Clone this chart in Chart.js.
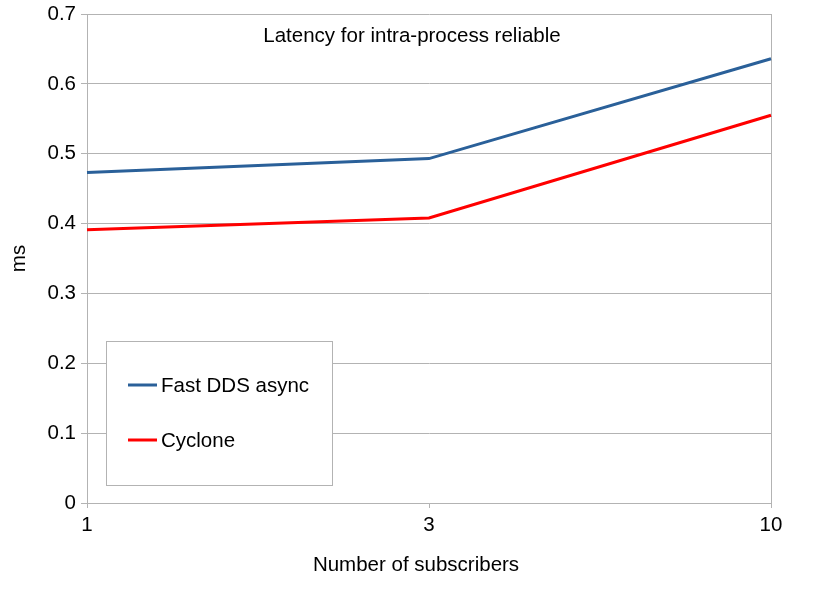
<!DOCTYPE html>
<html>
<head>
<meta charset="utf-8">
<script src="https://cdn.jsdelivr.net/npm/chart.js@4/dist/chart.umd.min.js"></script>
<style>
  html, body { margin: 0; padding: 0; background: #fff; }
  #wrap { width: 825px; height: 606px; }
</style>
</head>
<body>
<div id="wrap"><canvas id="latencyChart"></canvas></div>
<script>
// ===== DATA =====
const subscribers = ['1', '3', '10'];
const fastDdsAsync = [0.473, 0.493, 0.636];
const cyclone = [0.391, 0.408, 0.555];
const chartTitle = 'Latency for intra-process reliable';
const xTitle = 'Number of subscribers';
const yTitle = 'ms';

const GRID = '#b3b3b3';
const FONT = '"Liberation Sans", Arial, sans-serif';
const FSIZE = 20.5;

// ===== TITLE, X TITLE + LEGEND =====
const insidePlugin = {
    id: 'inside',
    afterDraw(chart) {
        const ctx = chart.ctx;
        const area = chart.chartArea;
        ctx.save();
        ctx.fillStyle = '#000';
        ctx.font = FSIZE + 'px ' + FONT;
        ctx.textAlign = 'center';
        ctx.textBaseline = 'middle';
        ctx.fillText(chartTitle, area.left + 325, area.top + 22);
        ctx.fillText(xTitle, area.left + 329, area.bottom + 62);

        // legend box
        const bx = area.left + 19.5, by = area.top + 327.5;
        ctx.strokeStyle = GRID;
        ctx.lineWidth = 1;
        ctx.fillStyle = '#fff';
        ctx.fillRect(bx, by, 226, 144);
        ctx.strokeRect(bx, by, 226, 144);

        ctx.textAlign = 'left';
        chart.data.datasets.forEach((ds, i) => {
            const y = area.top + 371 + i * 55;
            ctx.strokeStyle = ds.borderColor;
            ctx.lineWidth = 3;
            ctx.beginPath();
            ctx.moveTo(area.left + 41, y);
            ctx.lineTo(area.left + 70, y);
            ctx.stroke();
            ctx.fillStyle = '#000';
            ctx.fillText(ds.label, area.left + 74, y + 1);
        });
        ctx.restore();
    }
};

// ===== CHART =====
function initChart() {
    const ctx = document.getElementById('latencyChart');
    new Chart(ctx.getContext('2d'), {
        type: 'line',
        data: {
            labels: subscribers,
            datasets: [{
                label: 'Fast DDS async',
                data: fastDdsAsync,
                borderColor: '#2a6099',
                borderWidth: 3,
                pointRadius: 0,
                tension: 0
            }, {
                label: 'Cyclone',
                data: cyclone,
                borderColor: '#ff0000',
                borderWidth: 3,
                pointRadius: 0,
                tension: 0
            }]
        },
        options: {
            responsive: true,
            maintainAspectRatio: false,
            animation: false,
            layout: { padding: { top: 14, right: 54, left: 0, bottom: 0 } },
            plugins: {
                legend: { display: false },
                tooltip: { enabled: false }
            },
            scales: {
                x: {
                    offset: false,
                    afterFit: scale => {
                        scale.height = 103;
                        scale.paddingLeft = 0;
                        scale.paddingRight = 0;
                    },
                    grid: {
                        color: c => c.index === 1 ? 'rgba(0,0,0,0)' : GRID,
                        tickColor: GRID,
                        tickLength: 5
                    },
                    border: { color: GRID },
                    ticks: {
                        color: '#000',
                        font: { family: FONT, size: FSIZE },
                        padding: 5,
                        maxRotation: 0
                    }
                },
                y: {
                    min: 0,
                    max: 0.7,
                    afterFit: scale => {
                        scale.width = 87;
                        scale.paddingTop = 0;
                        scale.paddingBottom = 0;
                    },
                    grid: { color: GRID, tickColor: GRID, tickLength: 6 },
                    border: { color: GRID },
                    ticks: {
                        stepSize: 0.1,
                        color: '#000',
                        font: { family: FONT, size: FSIZE },
                        padding: 5
                    },
                    title: {
                        display: true,
                        text: yTitle,
                        color: '#000',
                        font: { family: FONT, size: FSIZE },
                        padding: { top: 7, bottom: 0 }
                    }
                }
            }
        },
        plugins: [insidePlugin]
    });
}

initChart();
</script>
</body>
</html>
